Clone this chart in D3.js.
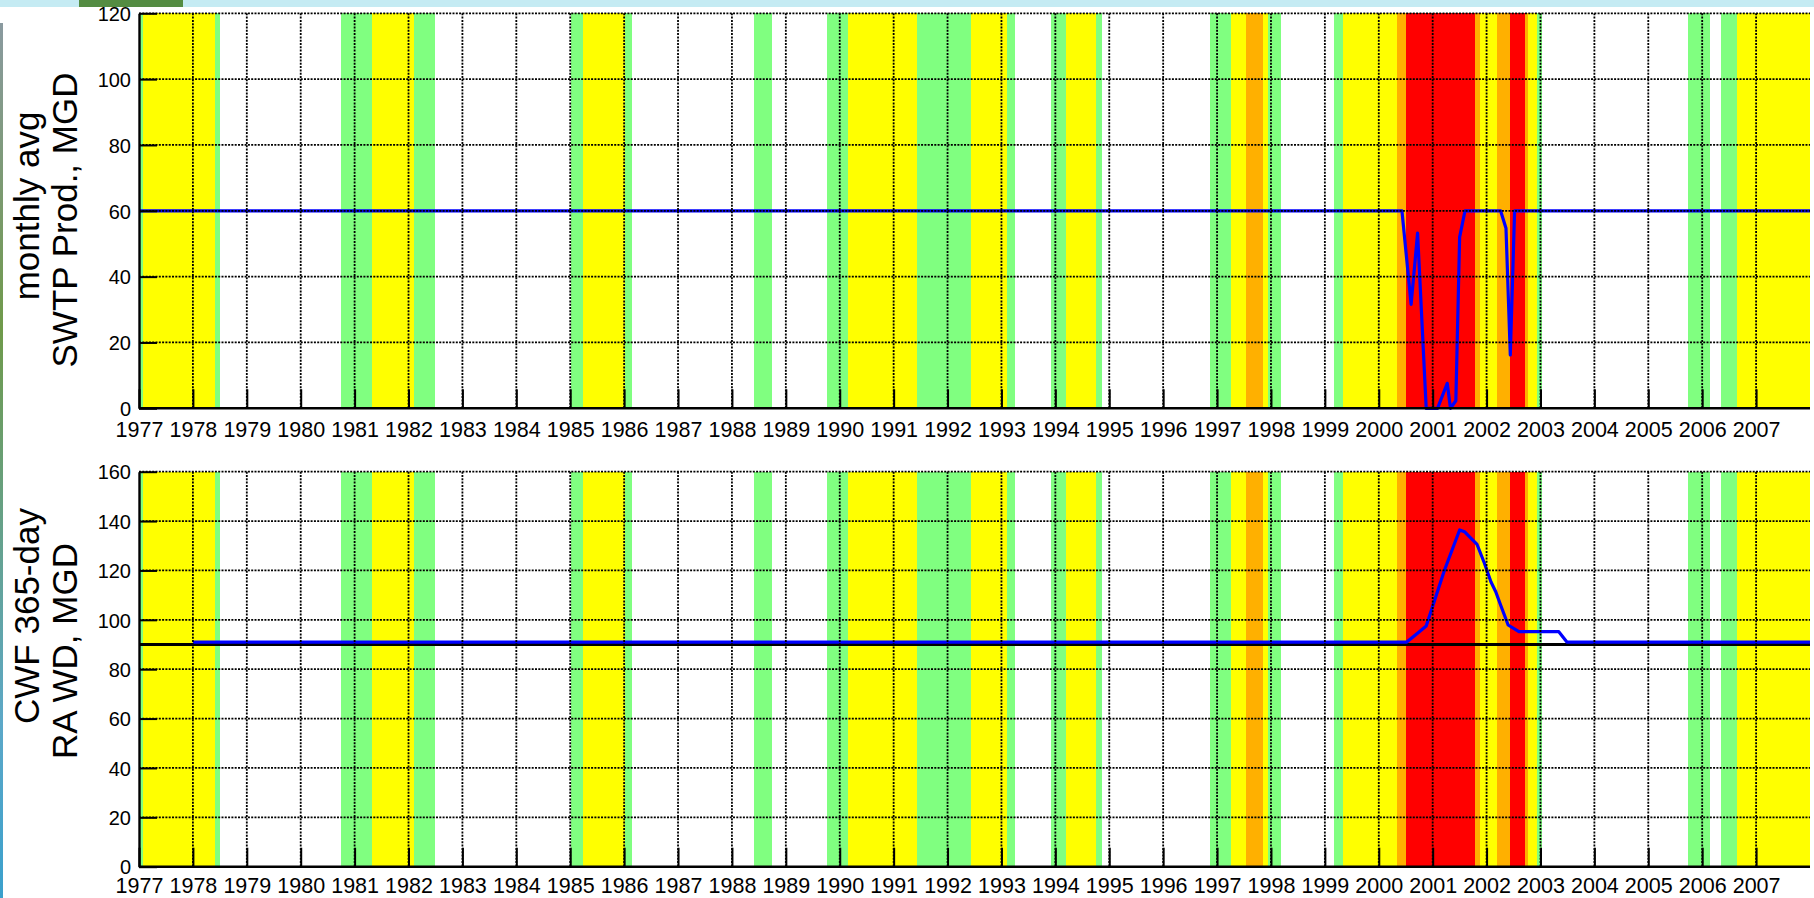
<!DOCTYPE html>
<html>
<head>
<meta charset="utf-8">
<script src="https://cdn.jsdelivr.net/npm/d3@7"></script>
<style>
  html, body { margin: 0; padding: 0; background: #fff; }
  svg { display: block; font-family: "Liberation Sans", Arial, sans-serif; }
</style>
</head>
<body>
<svg id="chart"></svg>
<script>
// stage bands (start year, end year, level) - same in both panels
var bandStart = [1977.00, 1977.08, 1978.41, 1980.74, 1981.33, 1982.10, 1985.02, 1985.23, 1986.01,
  1988.41, 1989.77, 1990.16, 1991.43, 1992.44, 1993.10, 1993.92, 1994.19, 1994.76,
  1996.86, 1997.25, 1997.53, 1997.85, 1997.95, 1999.17, 1999.34, 2000.34, 2000.51,
  2001.79, 2001.88, 2002.20, 2002.44, 2002.72, 2002.77, 2002.94, 2005.74, 2006.35, 2006.64]
var bandEnd = [1977.08, 1978.41, 1978.50, 1981.33, 1982.10, 1982.49, 1985.23, 1986.01, 1986.15,
  1988.75, 1990.16, 1991.43, 1992.44, 1993.10, 1993.25, 1994.19, 1994.76, 1994.87,
  1997.25, 1997.53, 1997.85, 1997.95, 1998.19, 1999.34, 2000.34, 2000.51, 2001.79,
  2001.88, 2002.20, 2002.44, 2002.72, 2002.77, 2002.94, 2003.02, 2006.15, 2006.64, 2008.00]
var bandLevel = ['G', 'Y', 'G', 'G', 'Y', 'G', 'G', 'Y', 'G',
  'G', 'G', 'Y', 'G', 'Y', 'G', 'G', 'Y', 'G',
  'G', 'Y', 'O', 'Y', 'G', 'G', 'Y', 'O', 'R',
  'O', 'Y', 'O', 'R', 'O', 'Y', 'G', 'G', 'G', 'Y']

// monthly avg SWTP production, MGD
var swtpYears = [1977, 2000.43, 2000.60, 2000.72, 2000.88, 2001.09, 2001.27, 2001.33, 2001.43,
  2001.50, 2001.60, 2002.26, 2002.36, 2002.44, 2002.52, 2008]
var swtpValues = [60, 60, 31.6, 53.2, 0, 0, 7.6, 0, 2.3, 52, 60, 60, 54.7, 16.2, 60, 60]

// CWF 365-day rolling avg withdrawal, MGD
var cwfYears = [1978, 2000.52, 2000.73, 2000.88, 2000.98, 2001.22, 2001.50, 2001.59, 2001.68,
  2001.82, 2001.96, 2002.08, 2002.17, 2002.26, 2002.40, 2002.60, 2003.34, 2003.49, 2008]
var cwfValues = [91, 91, 94.8, 97.5, 104.2, 120.2, 136.4, 135.7, 133.7, 130.7, 122.9, 115.4,
  111.4, 106, 97.9, 95.2, 95.2, 91, 91]

// permit limit line
var limitYears = [1977, 2008]
var limitValues = [90, 90]

var yearTicks = d3.range(1977, 2008)
var topTicks = [0, 20, 40, 60, 80, 100, 120]
var bottomTicks = [0, 20, 40, 60, 80, 100, 120, 140, 160]

var bandColors = { G: '#80ff80', Y: '#ffff00', O: '#ffb000', R: '#ff0000' }

var width = 1814
var height = 898

var svg = d3.select('#chart').attr('width', width).attr('height', height)

// slide background bits around the pasted chart
svg.append('rect').attr('x', 0).attr('y', 0).attr('width', width).attr('height', 7).attr('fill', '#c5ebf3')
svg.append('rect').attr('x', 79).attr('y', 0).attr('width', 104).attr('height', 7).attr('fill', '#548c42')
var grad = svg.append('defs').append('linearGradient').attr('id', 'strip')
  .attr('x1', 0).attr('y1', 0).attr('x2', 0).attr('y2', 1)
grad.append('stop').attr('offset', '0%').attr('stop-color', '#8a9aa0')
grad.append('stop').attr('offset', '35%').attr('stop-color', '#6f9a4a')
grad.append('stop').attr('offset', '80%').attr('stop-color', '#5ca8c8')
grad.append('stop').attr('offset', '100%').attr('stop-color', '#3aa0cc')
svg.append('rect').attr('x', 0).attr('y', 23).attr('width', 3).attr('height', height - 23).attr('fill', 'url(#strip)')

var x = d3.scaleLinear().domain([1977, 2008]).range([139, 1810])

var bands = bandStart.map((s, i) => ({ start: s, end: bandEnd[i], level: bandLevel[i] }))

function drawPanel(opts) {
  var y = d3.scaleLinear().domain([0, opts.max]).range([opts.bottom, opts.top])
  var g = svg.append('g')

  // coloured stage bands
  g.append('g').selectAll('rect')
    .data(bands)
    .enter().append('rect')
    .attr('x', d => x(d.start))
    .attr('width', d => x(d.end) - x(d.start))
    .attr('y', opts.top)
    .attr('height', opts.bottom - opts.top)
    .attr('fill', d => bandColors[d.level])
    .attr('shape-rendering', 'crispEdges')

  var line = d3.line().x(d => x(d[0])).y(d => y(d[1]))

  opts.series.forEach(s => {
    g.append('path')
      .datum(s.years.map((t, i) => [t, s.values[i]]))
      .attr('d', line)
      .attr('fill', 'none')
      .attr('stroke', s.color)
      .attr('stroke-width', 3.2)
      .attr('stroke-linejoin', 'round')
  })

  // dotted grid drawn on top (matlab layer top)
  var grid = g.append('g')
    .attr('stroke', '#000')
    .attr('stroke-width', 1.8)
    .attr('stroke-dasharray', '2,1.3')
  grid.selectAll('line.v')
    .data(yearTicks.slice(1))
    .enter().append('line')
    .attr('x1', d => x(d)).attr('x2', d => x(d))
    .attr('y1', opts.top).attr('y2', opts.bottom)
  grid.selectAll('line.h')
    .data(opts.ticks.slice(1))
    .enter().append('line')
    .attr('x1', x(1977)).attr('x2', x(2008))
    .attr('y1', d => y(d)).attr('y2', d => y(d))

  // axes: matlab style ticks pointing in
  var xAxis = d3.axisBottom(x).tickValues(yearTicks).tickFormat(d3.format('d'))
    .tickSizeInner(-19).tickSizeOuter(0)
  var xa = g.append('g').attr('transform', 'translate(0,' + opts.bottom + ')').call(xAxis)
  xa.select('.domain').attr('stroke-width', 2.4).attr('d', 'M' + x(1977) + ',0H' + x(2008))
  xa.selectAll('.tick line').attr('stroke-width', 2)
  xa.selectAll('.tick text')
    .attr('y', opts.labelGap).attr('dy', 0)
    .attr('font-size', 21.5)
    .attr('fill', '#000')
    .attr('font-family', '"Liberation Sans", Arial, sans-serif')

  var yAxis = d3.axisLeft(y).tickValues(opts.ticks).tickSizeInner(-18).tickSizeOuter(0)
  var ya = g.append('g').attr('transform', 'translate(' + x(1977) + ',0)').call(yAxis)
  ya.select('.domain').attr('stroke-width', 2.4)
  ya.selectAll('.tick line').attr('stroke-width', 2)
  ya.selectAll('.tick text')
    .attr('x', -8)
    .attr('dy', '0.36em')
    .attr('font-size', 20)
    .attr('fill', '#000')
    .attr('font-family', '"Liberation Sans", Arial, sans-serif')

  // two line y label
  opts.label.forEach((txt, i) => {
    svg.append('text')
      .attr('transform', 'translate(' + opts.labelX[i] + ',' + opts.labelY[i] + ') rotate(-90)')
      .attr('text-anchor', 'middle')
      .attr('font-size', 35)
      .attr('fill', '#000')
      .text(txt)
  })
}

drawPanel({
  top: 13.3, bottom: 408.3, max: 120, ticks: topTicks, labelGap: 28.5,
  series: [{ years: swtpYears, values: swtpValues, color: '#0000ff' }],
  label: ['monthly avg', 'SWTP Prod., MGD'],
  labelX: [38.5, 76.7], labelY: [206, 220]
})

drawPanel({
  top: 471.7, bottom: 866.7, max: 160, ticks: bottomTicks, labelGap: 26.3,
  series: [
    { years: limitYears, values: limitValues, color: '#000000' },
    { years: cwfYears, values: cwfValues, color: '#0000ff' }
  ],
  label: ['CWF 365-day', 'RA WD, MGD'],
  labelX: [38.5, 76.7], labelY: [616, 651]
})
</script>
</body>
</html>
